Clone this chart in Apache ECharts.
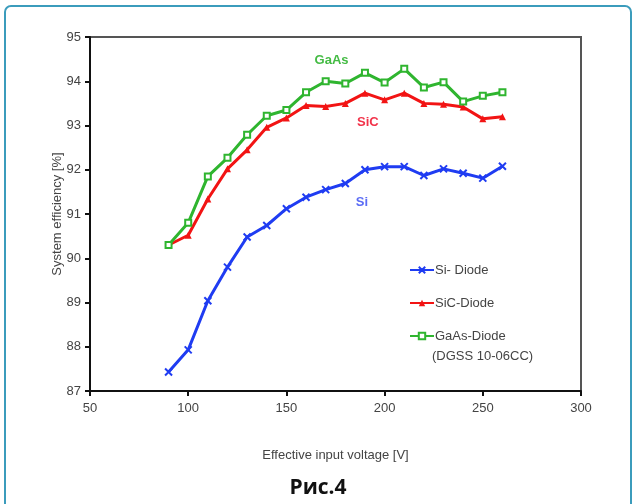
<!DOCTYPE html>
<html>
<head>
<meta charset="utf-8">
<script src="https://cdn.jsdelivr.net/npm/echarts@6/dist/echarts.min.js"></script>
<style>
  html, body { margin: 0; padding: 0; background: #fff; }
  #main { width: 636px; height: 504px; }
</style>
</head>
<body>
<div id="main"></div>
<script>
// voltage steps, V
var voltage = [90, 100, 110, 120, 130, 140, 150, 160, 170, 180, 190, 200, 210, 220, 230, 240, 250, 260];
// system efficiency, %
var siDiode   = [87.43, 87.93, 89.04, 89.80, 90.48, 90.74, 91.12, 91.38, 91.55, 91.69, 92.00, 92.07, 92.07, 91.87, 92.02, 91.92, 91.81, 92.08];
var sicDiode  = [90.30, 90.52, 91.34, 92.02, 92.45, 92.96, 93.17, 93.45, 93.43, 93.50, 93.73, 93.58, 93.73, 93.50, 93.48, 93.42, 93.15, 93.20];
var gaasDiode = [90.30, 90.80, 91.85, 92.27, 92.79, 93.22, 93.35, 93.75, 94.00, 93.95, 94.19, 93.97, 94.28, 93.86, 93.98, 93.54, 93.67, 93.75];
var seriesNames = ['Si- Diode', 'SiC-Diode', 'GaAs-Diode'];

function pairs(vals) {
    return voltage.map(function (v, i) { return [v, vals[i]]; });
}

var crossPath = 'path://M0,0L10,10M10,0L0,10Z';

var chart = echarts.init(document.getElementById('main'));

var option = {
    animation: false,
    backgroundColor: '#fff',
    textStyle: { fontFamily: 'Liberation Sans' },
    grid: { left: 90, right: 55, top: 37, bottom: 113 },
    graphic: [
        {   // teal frame of the page
            type: 'rect',
            shape: { x: 5, y: 6, width: 626, height: 520, r: [6, 6, 0, 0] },
            style: { fill: 'none', stroke: '#3b9cbc', lineWidth: 2 },
            silent: true
        },
        {   // top and right box edges
            type: 'polyline',
            shape: { points: [[90, 37], [581, 37], [581, 391]] },
            style: { stroke: '#555', lineWidth: 2, fill: 'none' },
            silent: true
        },
        {   // second line of the GaAs legend entry
            type: 'text',
            left: 432,
            top: 350,
            style: { text: '(DGSS 10-06CC)', font: '13px "Liberation Sans"', fill: '#444' }
        },
        {
            type: 'text',
            left: 'center',
            top: 478,
            style: {
                text: 'Рис.4',
                font: 'bold 21px "Open Sans"',
                fill: '#111'
            }
        }
    ],
    legend: {
        orient: 'vertical',
        left: 404,
        top: 258,
        itemGap: 19,
        itemWidth: 24,
        itemHeight: 8,
        data: seriesNames,
        textStyle: { color: '#444', fontSize: 13, lineHeight: 14, fontFamily: 'Liberation Sans', padding: [0, 0, 0, -4] }
    },
    xAxis: {
        type: 'value',
        min: 50,
        max: 300,
        interval: 50,
        name: 'Effective input voltage [V]',
        nameLocation: 'middle',
        nameGap: 58,
        nameTextStyle: { color: '#444', fontSize: 13 },
        axisLine: { show: true, lineStyle: { color: '#111', width: 2 } },
        axisTick: { show: true, length: 5, lineStyle: { color: '#111', width: 2 } },
        axisLabel: { color: '#444', fontSize: 13, margin: 11 },
        splitLine: { show: false }
    },
    yAxis: {
        type: 'value',
        min: 87,
        max: 95,
        interval: 1,
        name: 'System efficiency [%]',
        nameLocation: 'middle',
        nameGap: 26,
        nameMoveOverlap: false,
        nameTextStyle: { color: '#444', fontSize: 13 },
        axisLine: { show: true, lineStyle: { color: '#111', width: 2 } },
        axisTick: { show: true, length: 5, lineStyle: { color: '#111', width: 2 } },
        axisLabel: { color: '#444', fontSize: 13, margin: 9 },
        splitLine: { show: false }
    },
    series: [
        {
            name: 'Si- Diode',
            type: 'line',
            data: pairs(siDiode),
            color: '#1f3cf2',
            symbol: crossPath,
            symbolSize: 7,
            lineStyle: { width: 3 },
            itemStyle: { color: '#1f3cf2', borderColor: '#1f3cf2', borderWidth: 2 },
            markPoint: {
                symbolSize: 0,
                label: { show: true, color: '#5b6cf5', fontWeight: 'bold', fontSize: 13, formatter: '{b}' },
                data: [{ name: 'Si', coord: [188.5, 91.27] }]
            }
        },
        {
            name: 'SiC-Diode',
            type: 'line',
            data: pairs(sicDiode),
            color: '#f21414',
            symbol: 'triangle',
            symbolSize: 7,
            lineStyle: { width: 3 },
            markPoint: {
                symbolSize: 0,
                label: { show: true, color: '#f2334a', fontWeight: 'bold', fontSize: 13, formatter: '{b}' },
                data: [{ name: 'SiC', coord: [191.5, 93.08] }]
            }
        },
        {
            name: 'GaAs-Diode',
            type: 'line',
            data: pairs(gaasDiode),
            color: '#2fb52f',
            symbol: 'emptyRect',
            symbolSize: 6,
            lineStyle: { width: 3 },
            itemStyle: { borderWidth: 1.5 },
            markPoint: {
                symbolSize: 0,
                label: { show: true, color: '#44bb44', fontWeight: 'bold', fontSize: 13, formatter: '{b}' },
                data: [{ name: 'GaAs', coord: [173.0, 94.46] }]
            }
        }
    ]
};

chart.setOption(option);
</script>
</body>
</html>
